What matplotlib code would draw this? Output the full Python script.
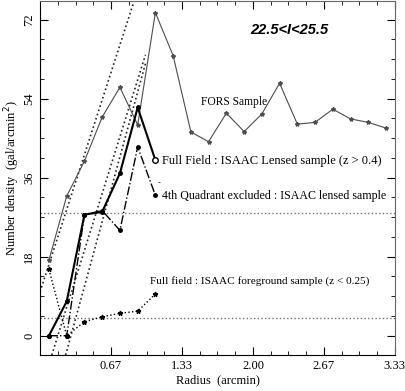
import numpy as np
from matplotlib import pyplot as plt
from matplotlib.ticker import MultipleLocator

# bin centres (arcmin)
radius = [0.083, 0.25, 0.417, 0.583, 0.75, 0.917, 1.083, 1.25, 1.417, 1.583,
          1.75, 1.917, 2.083, 2.25, 2.417, 2.583, 2.75, 2.917, 3.083, 3.25]
fors = [17.2, 31.8, 39.8, 49.8, 56.6, 48.0, 73.6, 63.8, 46.4, 44.2,
        50.7, 46.5, 50.5, 57.5, 48.2, 48.6, 51.6, 49.4, 48.6, 47.3]

radius_isaac = [0.083, 0.25, 0.417, 0.583, 0.75, 0.917, 1.083]
full_lensed = [0.0, 7.8, 27.6, 28.2, 37.0, 52.0, 40.0]
quad4_lensed = [0.0, 0.0, 27.6, 28.5, 24.0, 43.0, 32.0]
foreground = [15.1, 0.0, 3.2, 4.3, 5.1, 5.6, 9.5]

# straight fit lines: (x0, y0, x1, y1)
fit_lines = [(0.0, 10.0, 0.9, 77.5),
             (0.24, -4.4, 0.99, 62.0),
             (0.11, -4.4, 0.99, 64.0)]

levels = [27.9, 4.1]

plt.rcParams['font.family'] = ['Liberation Serif', 'DejaVu Serif']

fig = plt.figure(figsize=(4.05, 3.91), dpi=100)
ax = fig.add_axes([0.099, 0.092, 0.876, 0.906])

for y in levels:
    ax.axhline(y, color='0.45', ls=':', lw=1.0)

for x0, y0, x1, y1 in fit_lines:
    ax.plot([x0, x1], [y0, y1], color='0.15', ls=':', lw=1.2)

ax.plot(radius, fors, color='0.3', lw=0.8, marker='*', ms=3)
ax.plot(radius_isaac, full_lensed, color='black', lw=1.5, marker='o', ms=2.5)
ax.plot(radius_isaac[-1], full_lensed[-1], marker='o', ms=4, mfc='white', mec='black')
ax.plot(radius_isaac, quad4_lensed, color='black', lw=1.0, ls='-.', marker='o', ms=2.5)
ax.plot(radius_isaac, foreground, color='black', lw=1.0, ls=':', marker='*', ms=3.5)

ax.set_xlim(0, 10 / 3)
ax.set_ylim(-4.4, 76.3)
ax.set_xticks([2 / 3, 4 / 3, 2.0, 8 / 3, 10 / 3])
ax.set_xticklabels(['0.67', '1.33', '2.00', '2.67', '3.33'])
ax.set_yticks([0, 18, 36, 54, 72])
ax.xaxis.set_minor_locator(MultipleLocator(1 / 6))
ax.yaxis.set_minor_locator(MultipleLocator(4.5))
ax.tick_params(which='both', direction='in', top=True, right=True, labelsize=9)
ax.tick_params(which='major', length=6)
ax.tick_params(which='minor', length=3)
for lab in ax.get_yticklabels():
    lab.set_rotation(90)
    lab.set_va('center')

ax.set_xlabel('Radius  (arcmin)', fontsize=9, labelpad=2)
ax.set_ylabel('Number density  (gal/arcmin$^2$)', fontsize=9, labelpad=1)

ax.text(2.345, 69.6, '22.5<I<25.5', family='Liberation Sans', weight='bold',
        style='italic', fontsize=10.5, ha='center', va='center')
ax.text(1.51, 53.2, 'FORS Sample', fontsize=8.3, va='center')
ax.text(1.145, 39.8, 'Full Field : ISAAC Lensed sample (z > 0.4)', fontsize=9, va='center')
ax.text(1.107, 34.8, '-', fontsize=6, va='center')
ax.text(1.145, 31.8, '4th Quadrant excluded : ISAAC lensed sample', fontsize=8.6, va='center')
ax.text(1.03, 12.5, 'Full field : ISAAC foreground sample (z < 0.25)', fontsize=8.1, va='center')

for s in ['top', 'right']:
    ax.spines[s].set_color('0.4')

fig.savefig('out.png', dpi=100)
